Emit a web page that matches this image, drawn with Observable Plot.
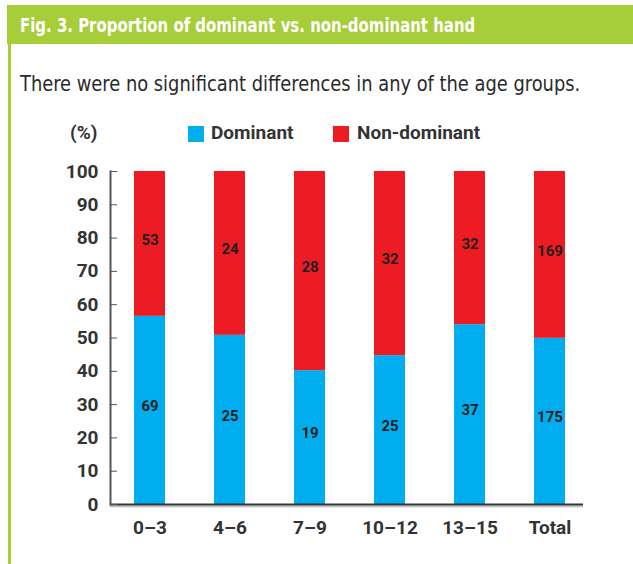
<!DOCTYPE html>
<html>
<head>
<meta charset="utf-8">
<script src="https://cdn.jsdelivr.net/npm/d3@7"></script>
<script src="https://cdn.jsdelivr.net/npm/@observablehq/plot@0.6"></script>
<style>
  html, body { margin: 0; padding: 0; background: #fff; }
  #wrap { position: relative; width: 633px; height: 564px; overflow: hidden; font-family: "Roboto", "Liberation Sans", sans-serif; color: #231F20; }
  #head { position: absolute; left: 7px; top: 5px; width: 626px; height: 39px; background: #A6CE39; }
  #title { position: absolute; left: 13px; top: 1px; line-height: 39px; color: #fff; font-family: "DejaVu Sans Condensed", "Liberation Sans Narrow", "DejaVu Sans", sans-serif; font-stretch: condensed; font-weight: bold; font-size: 20px; white-space: nowrap; transform: scaleX(0.83); transform-origin: 0 50%; }
  #lborder { position: absolute; left: 8px; top: 44px; width: 3px; height: 520px; background: #A6CE39; }
  #sub { position: absolute; left: 20px; top: 72px; font-family: "DejaVu Sans Condensed", "Liberation Sans Narrow", "DejaVu Sans", sans-serif; font-stretch: condensed; font-weight: 300; font-size: 21px; color: #2a2a2a; white-space: nowrap; transform: scaleX(0.945); transform-origin: 0 50%; }
  #chart { position: absolute; left: 0; top: 0; }
  .lg { position: absolute; font-size: 19px; font-weight: bold; color: #333; line-height: 20px; white-space: nowrap; }
  .sw { position: absolute; width: 16px; height: 16px; }
</style>
</head>
<body>
<div id="wrap">
  <div id="chart"></div>
  <div id="head"><div id="title">Fig. 3. Proportion of dominant vs. non-dominant hand</div></div>
  <div id="lborder"></div>
  <div id="sub">There were no significant differences in any of the age groups.</div>
  <div class="lg" style="left:70px; top:123px;">(%)</div>
  <div class="sw" style="left:188px; top:126px; background:#00AEEF;"></div>
  <div class="lg" style="left:211px; top:123px;">Dominant</div>
  <div class="sw" style="left:333px; top:126px; background:#ED1C24;"></div>
  <div class="lg" style="left:357px; top:123px;">Non-dominant</div>
</div>
<script>
// Data
const groups = ["0–3", "4–6", "7–9", "10–12", "13–15", "Total"];
const dominantN = [69, 25, 19, 25, 37, 175];
const nonDominantN = [53, 24, 28, 32, 32, 169];
const dominantPct = [56.5, 50.8, 40.2, 44.7, 54.0, 49.9];
const seriesNames = ["Dominant", "Non-dominant"];
const seriesColors = ["#00AEEF", "#ED1C24"];
const yTicks = [0, 10, 20, 30, 40, 50, 60, 70, 80, 90, 100];

const rows = [];
groups.forEach((g, i) => {
  rows.push({group: g, series: seriesNames[0], pct: dominantPct[i], n: dominantN[i]});
  rows.push({group: g, series: seriesNames[1], pct: 100 - dominantPct[i], n: nonDominantN[i]});
});

const chart = Plot.plot({
  width: 633,
  height: 564,
  marginTop: 171,
  marginBottom: 60,
  marginLeft: 110,
  marginRight: 50,
  style: {background: "transparent", fontFamily: "Roboto, 'Liberation Sans', sans-serif"},
  x: {type: "band", domain: groups, range: [134, 565], paddingInner: 0.6125, paddingOuter: 0},
  y: {domain: [0, 100]},
  color: {domain: seriesNames, range: seriesColors},
  marks: [
    Plot.barY(rows, Plot.stackY({x: "group", y: "pct", fill: "series", order: null})),
    Plot.text(rows, Plot.stackY({x: "group", y: "pct", z: "series", order: null, text: "n", dy: -4, fontSize: 15, fontWeight: "bold", fill: "#231F20"})),
    Plot.ruleY([0], {stroke: "#bbb", strokeWidth: 1.5, dy: 2}),
    Plot.ruleY([0], {stroke: "#333", strokeWidth: 2}),
    Plot.frame({anchor: "left", stroke: "#555", strokeWidth: 2}),
    Plot.axisY({ticks: yTicks, tickSize: 7, dx: 7, tickPadding: 12, fontSize: 19, fontWeight: "bold", stroke: "#555", fill: "#333", label: null, tickFormat: d => String(d)}),
    Plot.axisX({tickSize: 0, tickPadding: 16, fontSize: 19, fontWeight: "bold", fill: "#333", label: null})
  ]
});
document.getElementById("chart").appendChild(chart);
</script>
</body>
</html>
